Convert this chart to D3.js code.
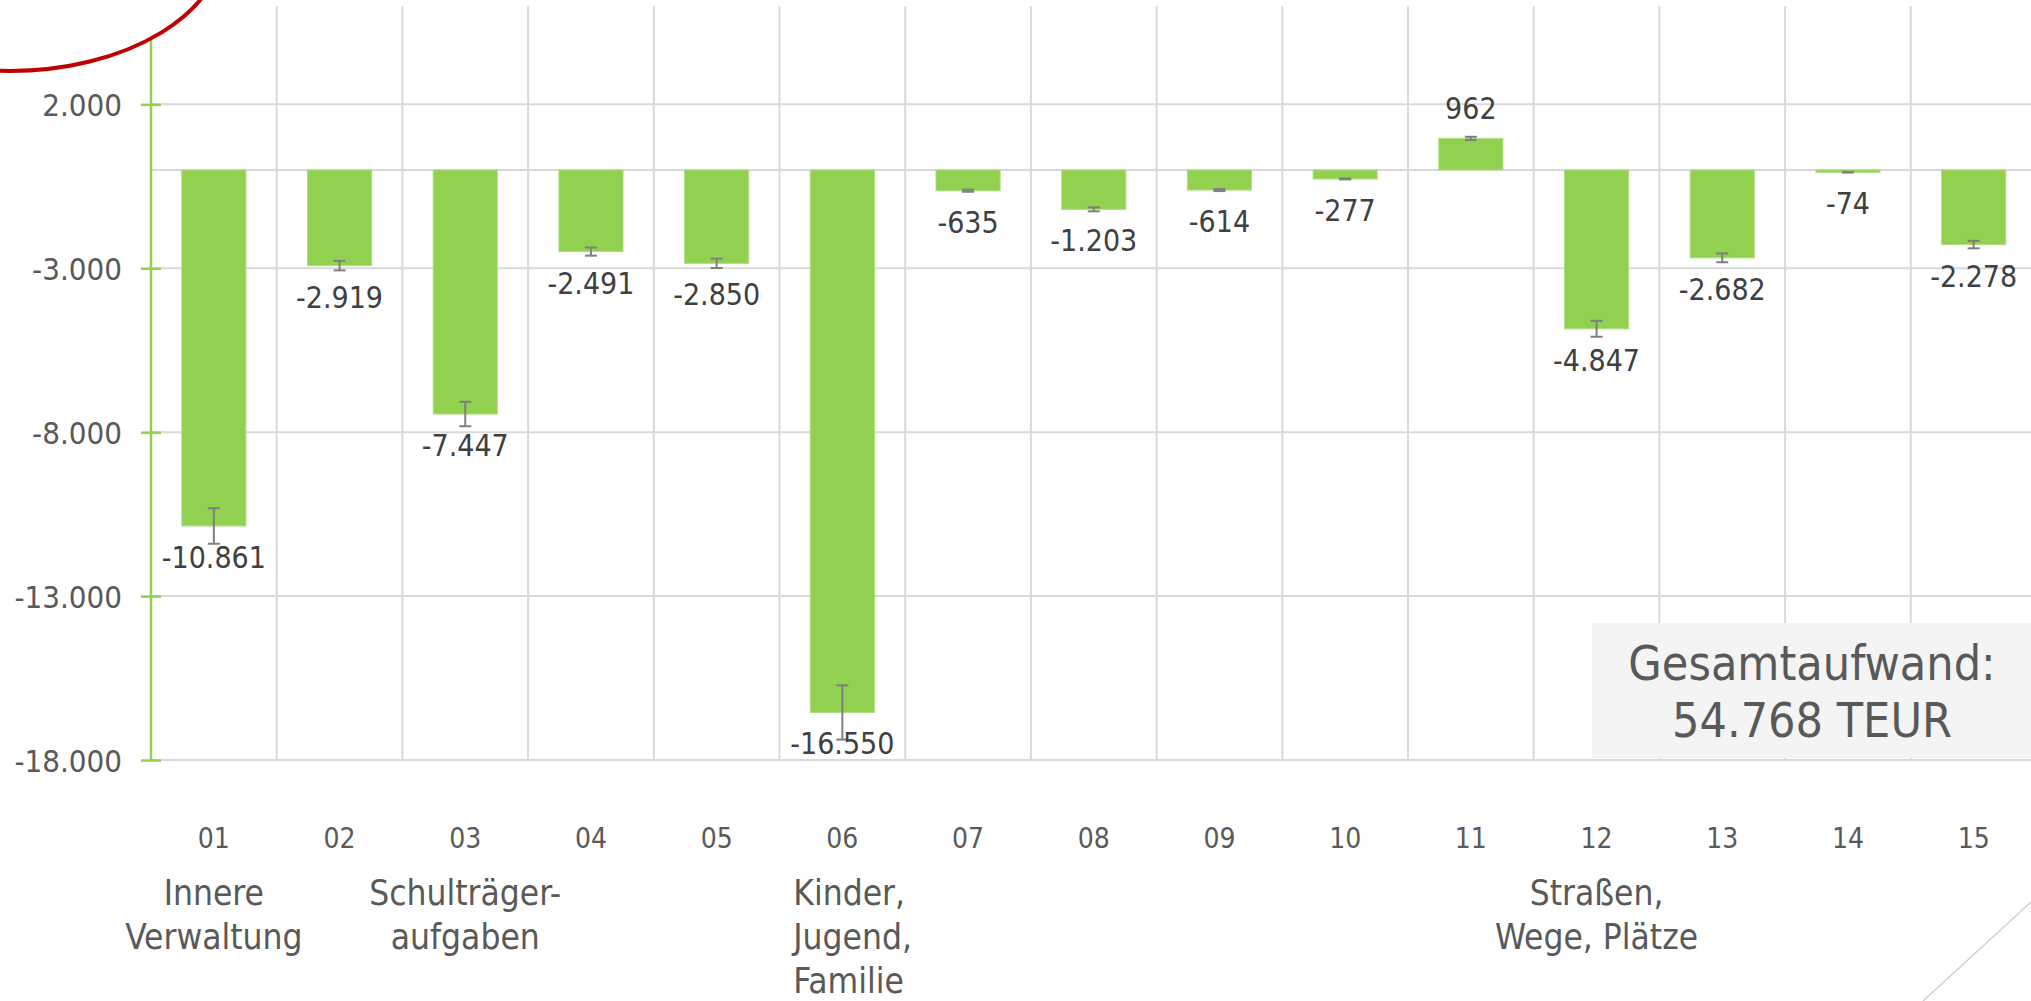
<html>
<head>
<meta charset="utf-8">
<script src="https://cdn.jsdelivr.net/npm/d3@7"></script>
<style>
  body { margin: 0; background: #fff; }
  svg { display: block; font-family: "DejaVu Sans Condensed", "DejaVu Sans", sans-serif; font-stretch: condensed; }
</style>
</head>
<body>
<svg width="2031" height="1001"></svg>
<script>
// Produktbereiche (Ergebnis in TEUR)
var codes = ["01","02","03","04","05","06","07","08","09","10","11","12","13","14","15"];
var values = [-10861, -2919, -7447, -2491, -2850, -16550, -635, -1203, -614, -277, 962, -4847, -2682, -74, -2278];
// Bezeichnungen unter einzelnen Bereichen (Zeilen)
var names = [
  ["Innere", "Verwaltung"], [], ["Schulträger-", "aufgaben"], [], [], ["Kinder,", "Jugend,", "Familie"],
  [], [], [], [], [], ["Straßen,", "Wege, Plätze"], [], [], []
];
var yTicks = [2000, -3000, -8000, -13000, -18000];
var errorPct = 0.05;   // Fehlerindikator: 5 %
var totalLines = ["Gesamtaufwand:", "54.768 TEUR"];

var de = d3.formatLocale({decimal: ",", thousands: ".", grouping: [3], currency: ["", " €"], minus: "-"});
var fmt = de.format(",d");

var svg = d3.select("svg");

var x = d3.scaleBand()
  .domain(codes)
  .range([151, 151 + 15 * 125.7])
  .paddingInner(0.49)
  .paddingOuter(0.245);

var y = d3.scaleLinear()
  .domain([-18000, 5000])
  .range([760, 6]);

var step = x.step();

// vertical gridlines between categories
svg.append("g").selectAll("line")
  .data(d3.range(1, codes.length))
  .enter().append("line")
  .attr("x1", function(i) { return 151 + i * step; })
  .attr("x2", function(i) { return 151 + i * step; })
  .attr("y1", 6).attr("y2", y(-18000))
  .attr("stroke", "#d9d9d9").attr("stroke-width", 2);

// horizontal gridlines
svg.append("g").selectAll("line")
  .data(yTicks.concat([0]))
  .enter().append("line")
  .attr("x1", 151).attr("x2", 2031)
  .attr("y1", function(d) { return y(d); })
  .attr("y2", function(d) { return y(d); })
  .attr("stroke", "#d9d9d9").attr("stroke-width", 2);

// bars
svg.append("g").selectAll("rect")
  .data(values)
  .enter().append("rect")
  .attr("x", function(d, i) { return x(codes[i]); })
  .attr("width", x.bandwidth())
  .attr("y", function(d) { return y(Math.max(0, d)); })
  .attr("height", function(d) { return Math.abs(y(d) - y(0)); })
  .attr("fill", "#92d050")
  .attr("stroke", "#aedd80").attr("stroke-width", 1);

// error bars
var eb = svg.append("g").attr("stroke", "#7f7f7f").attr("stroke-width", 2);
values.forEach(function(d, i) {
  var cx = x(codes[i]) + x.bandwidth() / 2;
  var lo = y(d - Math.abs(d) * errorPct), hi = y(d + Math.abs(d) * errorPct);
  eb.append("line").attr("x1", cx).attr("x2", cx).attr("y1", lo).attr("y2", hi);
  eb.append("line").attr("x1", cx - 6).attr("x2", cx + 6).attr("y1", lo).attr("y2", lo);
  eb.append("line").attr("x1", cx - 6).attr("x2", cx + 6).attr("y1", hi).attr("y2", hi);
});

// data labels
svg.append("g").selectAll("text")
  .data(values)
  .enter().append("text")
  .attr("x", function(d, i) { return x(codes[i]) + x.bandwidth() / 2; })
  .attr("y", function(d) { return d < 0 ? y(d) + 42 : y(d) - 19; })
  .attr("text-anchor", "middle")
  .attr("font-size", 30)
  .attr("fill", "#404040")
  .text(function(d) { return fmt(d); });

// y axis
var yAxis = d3.axisLeft(y).tickValues(yTicks).tickFormat(fmt).tickSize(10).tickPadding(19);
var gy = svg.append("g").attr("transform", "translate(151,0)").call(yAxis)
  .attr("font-family", null).attr("font-size", 31);
gy.select(".domain").attr("d", "M0,6V760").attr("stroke", "#92d050").attr("stroke-width", 2.5);
gy.selectAll(".tick line").attr("x1", -10).attr("x2", 10).attr("stroke", "#92d050").attr("stroke-width", 2.5);
gy.selectAll(".tick text").attr("fill", "#595959").attr("dy", "0.36em");

// x axis (codes)
var xAxis = d3.axisBottom(x).tickSize(0).tickPadding(0);
var gx = svg.append("g").attr("transform", "translate(0,760)").call(xAxis)
  .attr("font-family", null).attr("font-size", 28);
gx.select(".domain").remove();
gx.selectAll(".tick text").attr("y", 78).attr("dy", "0.36em").attr("fill", "#595959");

// category names
var gn = svg.append("g").attr("font-size", 35).attr("fill", "#595959");
names.forEach(function(lines, i) {
  if (!lines.length) return;
  var cx = x(codes[i]) + x.bandwidth() / 2;
  var left = codes[i] === "06";
  var t = gn.append("text")
    .attr("text-anchor", left ? "start" : "middle");
  lines.forEach(function(l, k) {
    t.append("tspan").attr("x", left ? cx - 49 : cx).attr("y", 905 + k * 44).text(l);
  });
});

// total box
svg.append("rect").attr("x", 1592).attr("y", 623).attr("width", 439).attr("height", 135).attr("fill", "#f4f4f4");
svg.append("g").selectAll("text")
  .data(totalLines)
  .enter().append("text")
  .attr("x", 1812).attr("y", function(d, i) { return 680 + i * 57; })
  .attr("text-anchor", "middle").attr("font-size", 48).attr("fill", "#595959")
  .text(function(d) { return d; });

// decoration
svg.append("line").attr("x1", 1923).attr("y1", 1001).attr("x2", 2031).attr("y2", 902)
  .attr("stroke", "#d0d0d0").attr("stroke-width", 1.5);
svg.append("ellipse").attr("cx", 10).attr("cy", -60).attr("rx", 214).attr("ry", 131)
  .attr("fill", "#fff").attr("stroke", "#c00000").attr("stroke-width", 4);
</script>
</body>
</html>
